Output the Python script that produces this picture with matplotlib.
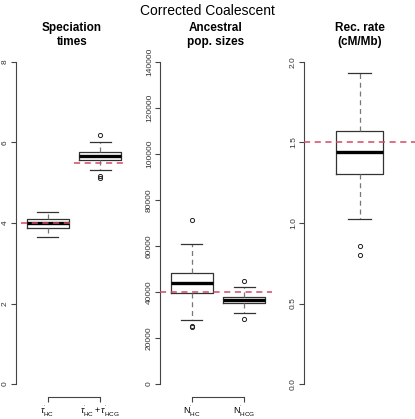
import matplotlib
matplotlib.use("Agg")
import matplotlib.pyplot as plt

plt.rcParams['font.family'] = ['Liberation Sans', 'DejaVu Sans']
plt.rcParams['mathtext.fontset'] = 'custom'
plt.rcParams['mathtext.rm'] = 'Liberation Sans'
plt.rcParams['mathtext.it'] = 'Liberation Sans:italic'

# speciation times
spec_labels = [r"$\tau^{'}_{\rm HC}$", r"$\tau^{'}_{\rm HC}+\tau^{'}_{\rm HCG}$"]
spec_q1 = [3.88, 5.56]
spec_med = [3.99, 5.66]
spec_q3 = [4.09, 5.76]
spec_lo = [3.66, 5.31]
spec_hi = [4.28, 6.00]
spec_fliers = [[], [6.18, 5.16, 5.12]]
spec_true = [4.0, 5.5]

# ancestral population sizes
pop_labels = [r"$\mathrm{N}^{'}_{\rm HC}$", r"$\mathrm{N}^{'}_{\rm HCG}$"]
pop_q1 = [39400, 35400]
pop_med = [43800, 36700]
pop_q3 = [48300, 38000]
pop_lo = [28000, 30900]
pop_hi = [60900, 42300]
pop_fliers = [[71500, 25400, 25000], [44700, 28400]]
pop_true = 40000

# recombination rate
rec_q1 = [1.306]
rec_med = [1.443]
rec_q3 = [1.571]
rec_lo = [1.023]
rec_hi = [1.934]
rec_fliers = [[0.859, 0.803]]
rec_true = 1.5

RED = '#d24a66'
W, H = 415, 419


def make_stats(q1, med, q3, lo, hi, fl):
    return [dict(q1=a, med=b, q3=c, whislo=d, whishi=e, fliers=f)
            for a, b, c, d, e, f in zip(q1, med, q3, lo, hi, fl)]


def panel(left, right, ylo, yhi, yticks, yticklabels, title):
    ax = fig.add_axes([left / W, 22 / H, (right - left) / W, 348 / H])
    pad = 0.04 * (yhi - ylo)
    ax.set_ylim(ylo - pad, yhi + pad)
    for s in ['top', 'right']:
        ax.spines[s].set_visible(False)
    ax.spines['left'].set_bounds(ylo, yhi)
    ax.spines['left'].set_color('#444444')
    ax.set_yticks(yticks)
    ax.set_yticklabels(yticklabels, rotation=90, va='center', fontsize=6, color='#333333')
    ax.tick_params(axis='y', length=3.6, width=0.8, color='#444444', pad=1.5)
    ax.set_title(title, fontsize=8.5, fontweight='bold', pad=3, linespacing=1.2)
    return ax


def draw_boxes(ax, stats, positions, width):
    ax.bxp(stats, positions=positions, widths=width, showfliers=True,
           boxprops=dict(color='#333333', linewidth=0.9),
           medianprops=dict(color='black', linewidth=2.4),
           whiskerprops=dict(color='#777777', linewidth=0.9, linestyle=(0, (4, 3))),
           capprops=dict(color='#333333', linewidth=0.9),
           capwidths=width * 0.5,
           flierprops=dict(marker='o', markersize=3, markerfacecolor='none',
                           markeredgecolor='#222222', markeredgewidth=0.7),
           manage_ticks=False)


def bracket(ax, labels):
    ax.spines['bottom'].set_bounds(1, 2)
    ax.spines['bottom'].set_color('#444444')
    ax.set_xticks([1, 2])
    ax.set_xticklabels(labels, fontsize=6.5)
    ax.tick_params(axis='x', length=3.6, width=0.8, color='#444444', pad=1)


fig = plt.figure(figsize=(W / 100, H / 100), dpi=100)

# panel 1
ax1 = panel(16, 128, 0, 8, [0, 2, 4, 6, 8], ['0', '2', '4', '6', '8'], 'Speciation\ntimes')
ax1.set_xlim(0.4, 2.53)
draw_boxes(ax1, make_stats(spec_q1, spec_med, spec_q3, spec_lo, spec_hi, spec_fliers), [1, 2], 0.8)
for i, v in enumerate(spec_true):
    ax1.plot([i + 0.5, i + 1.5], [v, v], color=RED, linewidth=1.1, linestyle=(0, (4, 3)), zorder=5)
bracket(ax1, spec_labels)

# panel 2
pticks = list(range(0, 140001, 20000))
ax2 = panel(160, 272, 0, 140000, pticks, [str(t) for t in pticks], 'Ancestral\npop. sizes')
ax2.set_xlim(0.4, 2.53)
draw_boxes(ax2, make_stats(pop_q1, pop_med, pop_q3, pop_lo, pop_hi, pop_fliers), [1, 2], 0.8)
ax2.axhline(pop_true, color=RED, linewidth=1.1, linestyle=(0, (4, 3)), zorder=5)
bracket(ax2, pop_labels)

# panel 3
rticks = [0.0, 0.5, 1.0, 1.5, 2.0]
ax3 = panel(304, 415, 0, 2.0, rticks, ['%.1f' % t for t in rticks], 'Rec. rate\n(cM/Mb)')
ax3.set_xlim(0, 2)
draw_boxes(ax3, make_stats(rec_q1, rec_med, rec_q3, rec_lo, rec_hi, rec_fliers), [1], 0.83)
ax3.axhline(rec_true, color=RED, linewidth=1.1, linestyle=(0, (4, 3)), zorder=5)
ax3.spines['bottom'].set_visible(False)
ax3.set_xticks([])

fig.text(0.5, 1 - 11 / H, 'Corrected Coalescent', ha='center', va='center', fontsize=10)

fig.savefig('out.png', dpi=100)
